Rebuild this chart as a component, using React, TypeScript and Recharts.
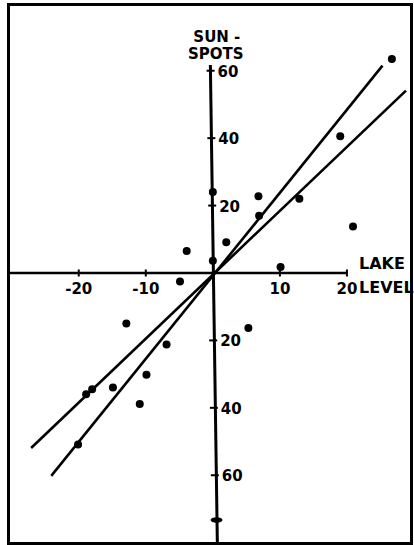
import React from 'react';
import { ComposedChart, Scatter, XAxis, YAxis, ReferenceLine } from 'recharts';

// Observations: lake level (x) vs sunspots (y)
const lakeLevel = [26.7, 19.0, 12.9, 20.9, 6.8, 6.9, 2.0, 0, 0, -3.9, -4.9, 10.1, -12.9, 5.3, -6.9, -9.9, -14.9, -18.0, -18.9, -10.9, -20.1];
const sunspots = [63.5, 40.6, 22.0, 13.8, 22.8, 17.0, 9.1, 24.0, 3.6, 6.5, -2.5, 1.8, -15.0, -16.3, -21.2, -30.2, -34.0, -34.5, -36.0, -38.9, -50.9];

// Two fitted lines (end points)
const steepLineX = [-24.1, 25.3];
const steepLineY = [-60.2, 61.5];
const shallowLineX = [-27.1, 28.8];
const shallowLineY = [-51.9, 54.1];

// Axis ticks
const xTickValues = [-20, -10, 10, 20];
const xTickLabels = ['-20', '-10', '10', '20'];
const yTickValues = [60, 40, 20, -20, -40, -60];
const yTickLabels = ['60', '40', '20', '20', '40', '60'];
const yAxisLean = [-0.34, -0.22, -0.1, 0.05, 0.15, 0.3]; // hand-drawn axis drifts slightly
const yEndMarker = { x: 0.55, y: -73.3 };

const X_DOMAIN: [number, number] = [-30.4, 29.7];
const Y_DOMAIN: [number, number] = [-80.1, 79.5];

const points = lakeLevel.map((x, i) => ({ x, y: sunspots[i] }));
const steepLine = steepLineX.map((x, i) => ({ x, y: steepLineY[i] }));
const shallowLine = shallowLineX.map((x, i) => ({ x, y: shallowLineY[i] }));
const xTicks = xTickValues.map((x, i) => ({ x, y: 0, label: xTickLabels[i] }));
const yTicks = yTickValues.map((y, i) => ({ x: yAxisLean[i], y, label: yTickLabels[i] }));

const titles = [
  { x: 0.6, y: 68.6, label: 'SUN -', anchor: 'middle', size: 15 },
  { x: 0.45, y: 63.5, label: 'SPOTS', anchor: 'middle', size: 15 },
  { x: 21.8, y: 1.2, label: 'LAKE', anchor: 'start', size: 16 },
  { x: 21.8, y: -5.9, label: 'LEVEL', anchor: 'start', size: 16 },
];

const FONT = '"DejaVu Sans", sans-serif';

const Dot = (props: any) => <circle cx={props.cx} cy={props.cy} r={4} fill="#000" />;
const Nothing = () => <g />;

const XTickShape = (props: any) => {
  const { cx, cy, payload } = props;
  return (
    <g>
      <line x1={cx} x2={cx} y1={cy - 3.5} y2={cy + 3.5} stroke="#000" strokeWidth={2} />
      <text x={cx} y={cy + 21} textAnchor="middle" fontFamily={FONT} fontWeight="bold" fontSize={15} fill="#000">
        {payload.label}
      </text>
    </g>
  );
};

const YTickShape = (props: any) => {
  const { cx, cy, payload } = props;
  return (
    <g>
      <line x1={cx - 4} x2={cx + 4} y1={cy} y2={cy} stroke="#000" strokeWidth={2} />
      <text x={cx + 7} y={cy + 6} textAnchor="start" fontFamily={FONT} fontWeight="bold" fontSize={15} fill="#000">
        {payload.label}
      </text>
    </g>
  );
};

const EndMarker = (props: any) => (
  <ellipse cx={props.cx} cy={props.cy} rx={6} ry={2.8} fill="#000" />
);

const TitleShape = (props: any) => {
  const { cx, cy, payload } = props;
  return (
    <text x={cx} y={cy} textAnchor={payload.anchor} fontFamily={FONT} fontWeight="bold" fontSize={payload.size} fill="#000">
      {payload.label}
    </text>
  );
};

export default function App() {
  return (
    <div style={{ position: 'absolute', left: 0, top: 0, width: 414, height: 545, background: '#fff' }}>
      <div
        style={{
          position: 'absolute',
          left: 7,
          top: 3,
          width: 406,
          height: 542,
          border: '3px solid #000',
          boxSizing: 'border-box',
        }}
      />
      <div style={{ position: 'absolute', left: 0, top: 0 }}>
        <ComposedChart width={414} height={545} margin={{ top: 5, right: 2, bottom: 2, left: 9 }}>
          <XAxis type="number" dataKey="x" domain={X_DOMAIN} hide />
          <YAxis type="number" dataKey="y" domain={Y_DOMAIN} hide />
          <ReferenceLine
            segment={[{ x: X_DOMAIN[0], y: 0 }, { x: 20, y: 0 }]}
            stroke="#000"
            strokeWidth={2.5}
          />
          <ReferenceLine
            segment={[{ x: -0.37, y: 61.7 }, { x: 0.67, y: Y_DOMAIN[0] }]}
            stroke="#000"
            strokeWidth={3}
          />
          <Scatter data={xTicks} shape={XTickShape} isAnimationActive={false} />
          <Scatter data={yTicks} shape={YTickShape} isAnimationActive={false} />
          <Scatter data={[yEndMarker]} shape={EndMarker} isAnimationActive={false} />
          <Scatter
            data={steepLine}
            line={{ stroke: '#000', strokeWidth: 2.6 }}
            shape={Nothing}
            isAnimationActive={false}
          />
          <Scatter
            data={shallowLine}
            line={{ stroke: '#000', strokeWidth: 2.6 }}
            shape={Nothing}
            isAnimationActive={false}
          />
          <Scatter data={points} shape={Dot} isAnimationActive={false} />
          <Scatter data={titles} shape={TitleShape} isAnimationActive={false} />
        </ComposedChart>
      </div>
    </div>
  );
}
